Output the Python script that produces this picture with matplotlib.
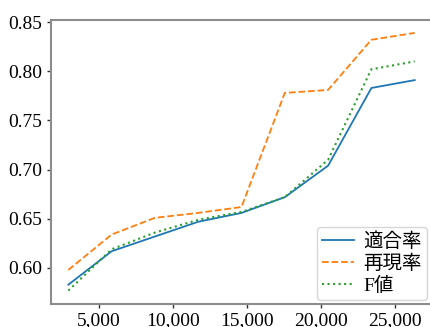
import matplotlib
matplotlib.use("Agg")
import matplotlib.pyplot as plt
from matplotlib.ticker import FuncFormatter

plt.rcParams['font.family'] = ['Liberation Serif', 'Noto Sans CJK JP']

# training data size vs. scores
sizes = [2925, 5850, 8775, 11700, 14625, 17550, 20475, 23400, 26325]
precision = [0.583, 0.617, 0.632, 0.647, 0.656, 0.672, 0.704, 0.783, 0.791]
recall = [0.598, 0.634, 0.651, 0.656, 0.662, 0.778, 0.781, 0.832, 0.839]
f_value = [0.577, 0.619, 0.636, 0.649, 0.657, 0.672, 0.710, 0.802, 0.810]

W, H = 431, 327
fig = plt.figure(figsize=(W / 100, H / 100), dpi=100)
ax = fig.add_axes([51 / W, 1 - 303.5 / H, 381 / W, 283.5 / H])

ax.plot(sizes, precision, color="tab:blue", linestyle="-", linewidth=1.3, label="適合率")
ax.plot(sizes, recall, color="tab:orange", linestyle="--", linewidth=1.3, label="再現率")
ax.plot(sizes, f_value, color="tab:green", linestyle=":", linewidth=1.5, label="F値")

ax.xaxis.set_major_formatter(FuncFormatter(lambda v, p: f"{int(v):,}"))
ax.set_xticks([5000, 10000, 15000, 20000, 25000])
ax.set_yticks([0.60, 0.65, 0.70, 0.75, 0.80, 0.85])
ax.yaxis.set_major_formatter(FuncFormatter(lambda v, p: f"{v:.2f}"))
ax.tick_params(labelsize=14, length=3, width=1, color="#333333")

for side in ["left", "bottom", "top"]:
    ax.spines[side].set_color("#8c8c8c")
    ax.spines[side].set_linewidth(1.5)
ax.spines["right"].set_visible(False)

leg = ax.legend(loc="lower right", fontsize=14, handlelength=1.65,
                borderpad=0.25, labelspacing=0.2, handletextpad=0.5,
                borderaxespad=0, bbox_to_anchor=(0.987, 0.012))
leg.get_frame().set_edgecolor("#cccccc")

fig.savefig("out.png", dpi=100)
